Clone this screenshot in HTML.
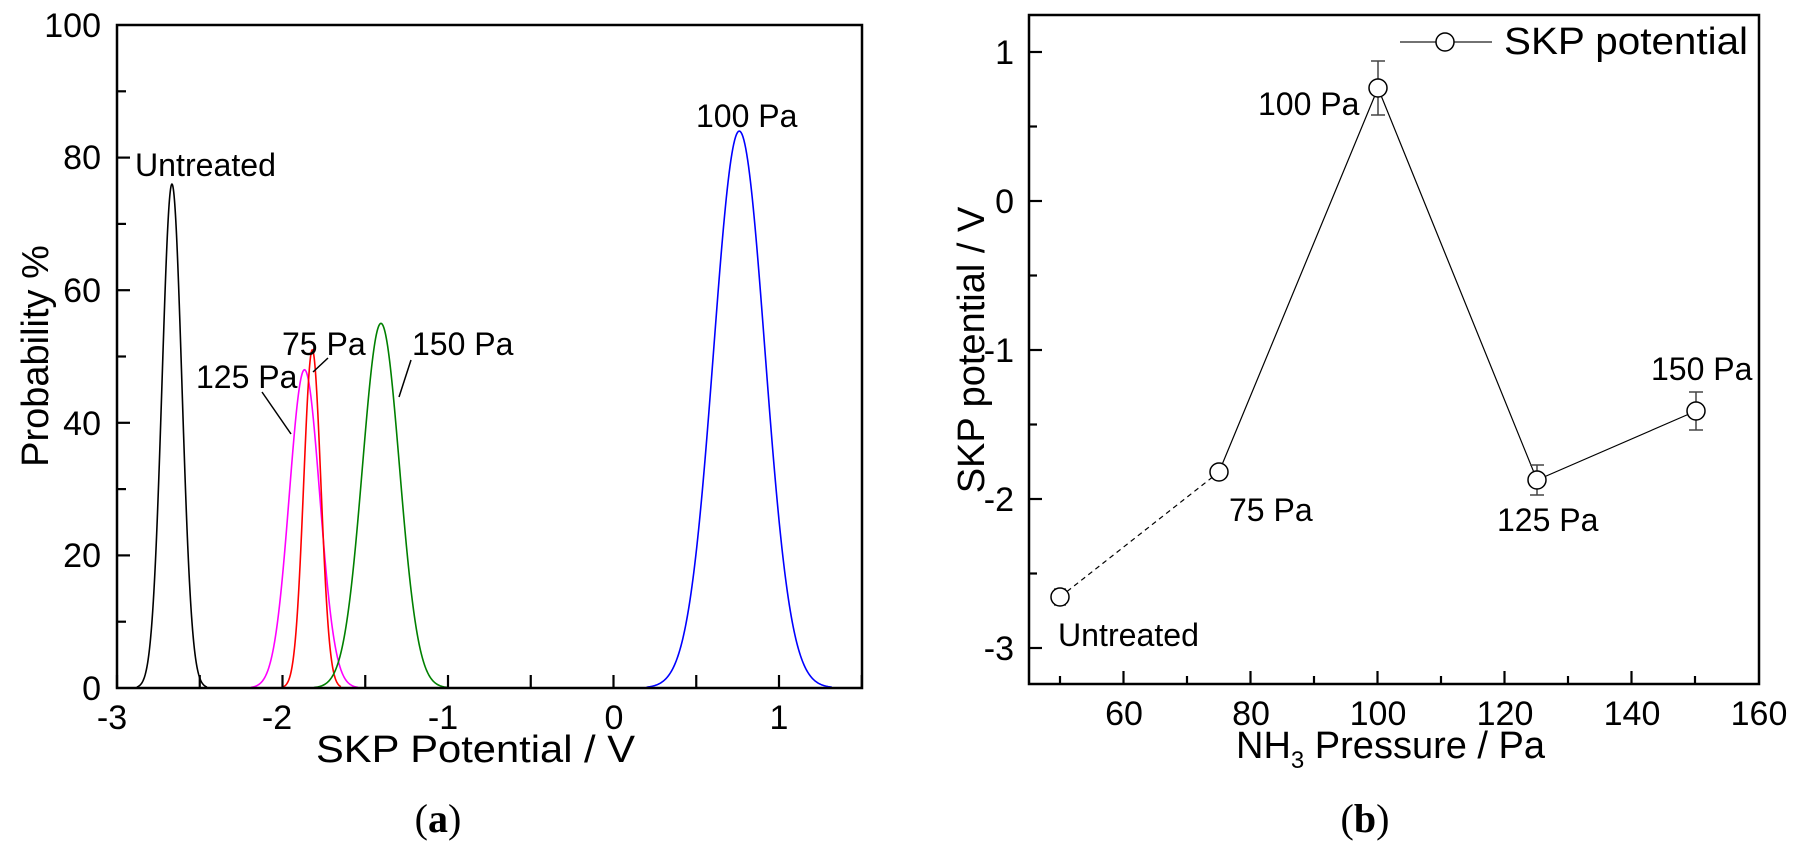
<!DOCTYPE html>
<html><head><meta charset="utf-8">
<style>
html,body{margin:0;padding:0;background:#fff;}
svg{display:block;}
text{font-family:"Liberation Sans",Arial,sans-serif;fill:#000;}
.serif{font-family:"Liberation Serif","Times New Roman",serif;}
</style></head>
<body>
<svg id="s" width="1795" height="857" viewBox="0 0 1795 857" xmlns="http://www.w3.org/2000/svg">
<g id="curves" fill="none" stroke-width="1.6"></g>
<g id="ticks" stroke="#000" stroke-width="2.2"></g>
<rect x="117" y="25" width="745" height="663" fill="none" stroke="#000" stroke-width="2.5"/>
<rect x="1029" y="15" width="730" height="669" fill="none" stroke="#000" stroke-width="2.5"/>

<g font-size="34" text-anchor="end">
<text x="101" y="37">100</text>
<text x="101" y="169">80</text>
<text x="101" y="302">60</text>
<text x="101" y="435">40</text>
<text x="101" y="567">20</text>
<text x="101" y="700">0</text>
</g>
<g font-size="34" text-anchor="middle">
<text x="112" y="729">-3</text>
<text x="277" y="729">-2</text>
<text x="443" y="729">-1</text>
<text x="614" y="729">0</text>
<text x="779" y="729">1</text>
</g>
<text x="316" y="762" font-size="38" textLength="319" lengthAdjust="spacingAndGlyphs">SKP Potential / V</text>
<text transform="translate(48,356) rotate(-90)" font-size="38" text-anchor="middle">Probability %</text>

<g font-size="32">
<text x="135" y="176" textLength="141" lengthAdjust="spacingAndGlyphs">Untreated</text>
<text x="696" y="127">100 Pa</text>
<text x="282" y="355">75 Pa</text>
<text x="196" y="388">125 Pa</text>
<text x="412" y="355">150 Pa</text>
</g>
<g stroke="#000" stroke-width="1.5">
<line x1="328" y1="358" x2="313" y2="372"/>
<line x1="262" y1="392" x2="291" y2="434"/>
<line x1="411" y1="360" x2="399" y2="397"/>
</g>

<g font-size="34" text-anchor="end">
<text x="1014" y="64">1</text>
<text x="1014" y="213">0</text>
<text x="1014" y="362">-1</text>
<text x="1014" y="511">-2</text>
<text x="1014" y="660">-3</text>
</g>
<g font-size="34" text-anchor="middle">
<text x="1124" y="725">60</text>
<text x="1251" y="725">80</text>
<text x="1378" y="725">100</text>
<text x="1505" y="725">120</text>
<text x="1632" y="725">140</text>
<text x="1759" y="725">160</text>
</g>
<text x="1236" y="758" font-size="38">NH<tspan font-size="24" dy="10">3</tspan><tspan dy="-10"> Pressure / Pa</tspan></text>
<text transform="translate(984,350) rotate(-90)" font-size="38" text-anchor="middle">SKP potential / V</text>

<g stroke="#000" stroke-width="1.2" fill="none">
<line x1="1060" y1="597" x2="1219" y2="472" stroke-dasharray="5,4"/>
<polyline points="1219,472 1378,88 1537,480 1696,411"/>
</g>
<g stroke="#444" stroke-width="1.5">
<line x1="1060" y1="589" x2="1060" y2="605"/><line x1="1054" y1="589" x2="1066" y2="589"/><line x1="1054" y1="605" x2="1066" y2="605"/>
<line x1="1378" y1="61" x2="1378" y2="115"/><line x1="1371" y1="61" x2="1385" y2="61"/><line x1="1371" y1="115" x2="1385" y2="115"/>
<line x1="1537" y1="465" x2="1537" y2="495"/><line x1="1530" y1="465" x2="1544" y2="465"/><line x1="1530" y1="495" x2="1544" y2="495"/>
<line x1="1696" y1="392" x2="1696" y2="430"/><line x1="1689" y1="392" x2="1703" y2="392"/><line x1="1689" y1="430" x2="1703" y2="430"/>
</g>
<g fill="#fff" stroke="#000" stroke-width="1.5">
<circle cx="1060" cy="597" r="9"/>
<circle cx="1219" cy="472" r="9"/>
<circle cx="1378" cy="88" r="9"/>
<circle cx="1537" cy="480" r="9"/>
<circle cx="1696" cy="411" r="9"/>
</g>
<line x1="1400" y1="42" x2="1492" y2="42" stroke="#444" stroke-width="1.5"/>
<circle cx="1445" cy="42" r="9" fill="#fff" stroke="#000" stroke-width="1.5"/>
<text x="1504" y="54" font-size="38" textLength="244" lengthAdjust="spacingAndGlyphs">SKP potential</text>
<g font-size="32">
<text x="1058" y="646" textLength="141" lengthAdjust="spacingAndGlyphs">Untreated</text>
<text x="1229" y="521">75 Pa</text>
<text x="1258" y="115">100 Pa</text>
<text x="1497" y="531">125 Pa</text>
<text x="1651" y="380">150 Pa</text>
</g>

<text class="serif" x="438" y="832" font-size="40" text-anchor="middle">(<tspan font-weight="bold">a</tspan>)</text>
<text class="serif" x="1365" y="832" font-size="40" text-anchor="middle">(<tspan font-weight="bold">b</tspan>)</text>
</svg>
<script>
(function(){
var NS="http://www.w3.org/2000/svg";
var cg=document.getElementById("curves"), tg=document.getElementById("ticks");
function X(v){return 117+(v+3)*165.5;}
function Y(p){return 688-p*6.63;}
var cs=[
 {m:-2.668,s:0.06,pk:76,a:-2.88,b:-2.456,c:"#000"},
 {m:-1.867,s:0.092,pk:48,a:-2.19,b:-1.544,c:"#ff00ff"},
 {m:-1.82,s:0.052,pk:51,a:-2.0,b:-1.647,c:"#ff0000"},
 {m:-1.405,s:0.112,pk:55,a:-1.81,b:-1.0,c:"#008000"},
 {m:0.76,s:0.155,pk:84,a:0.2,b:1.32,c:"#0000ff"}];
cs.forEach(function(k){
 var d="";
 for(var i=0;i<=200;i++){var v=k.a+(k.b-k.a)*i/200;var p=k.pk*Math.exp(-(v-k.m)*(v-k.m)/(2*k.s*k.s));
  d+=(i?"L":"M")+X(v).toFixed(2)+","+Y(p).toFixed(2);}
 var e=document.createElementNS(NS,"path");e.setAttribute("d",d);e.setAttribute("stroke",k.c);cg.appendChild(e);
});
function L(x1,y1,x2,y2){var e=document.createElementNS(NS,"line");e.setAttribute("x1",x1);e.setAttribute("y1",y1);e.setAttribute("x2",x2);e.setAttribute("y2",y2);tg.appendChild(e);}
for(var v=-3;v<=1.5001;v+=0.5){var x=X(v);L(x,688,x,675);}
for(var p=10;p<100;p+=10){var y=Y(p);L(117,y,(p%20==0)?130:126,y);}
for(var v=-3;v<=1.0001;v+=0.5){var y=201-149*v;L(1029,y,(Math.abs(v-Math.round(v))<0.01)?1042:1037,y);}
for(var P=50;P<=150;P+=10){var x=1060+6.35*(P-50);L(x,684,x,(P%20==0)?671:676);}
})();
</script>
</body></html>
